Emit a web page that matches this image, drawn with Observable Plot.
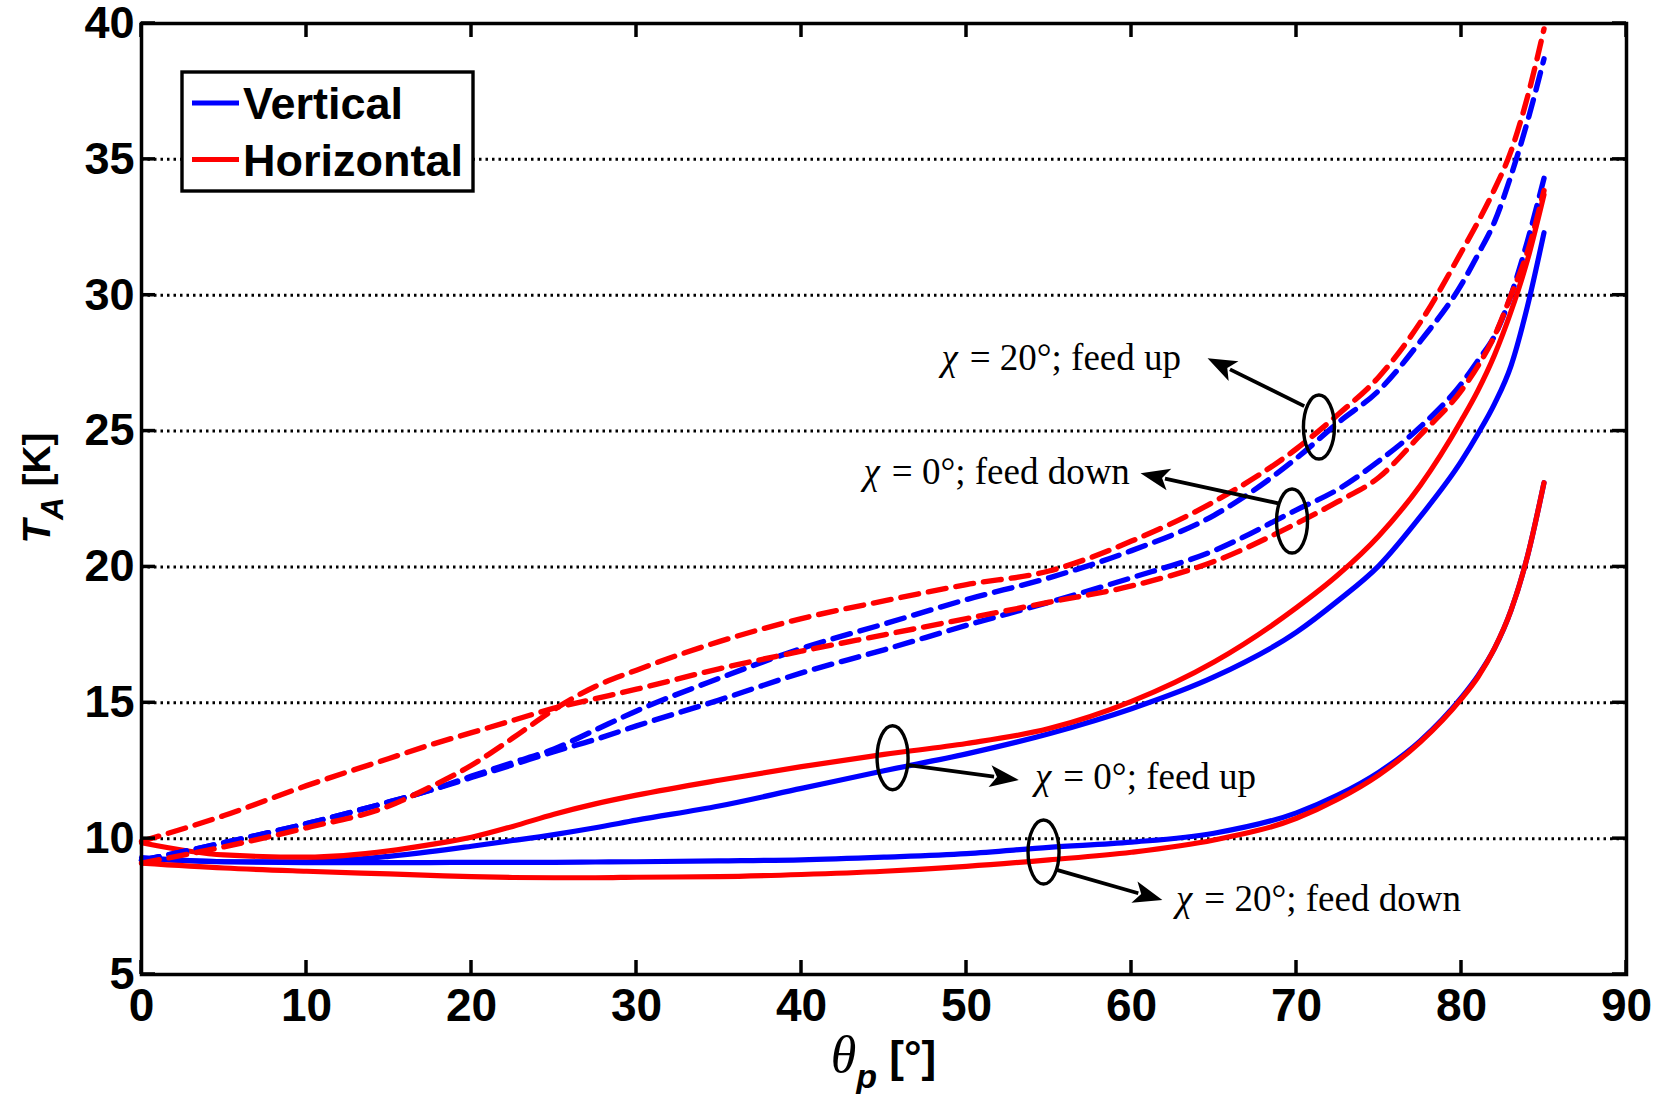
<!DOCTYPE html>
<html>
<head>
<meta charset="utf-8">
<script src="https://cdn.jsdelivr.net/npm/d3@7"></script>
<script src="https://cdn.jsdelivr.net/npm/@observablehq/plot@0.6"></script>
<style>
  html, body { margin: 0; padding: 0; background: #ffffff; }
  #chart svg { display: block; overflow: visible; }
</style>
</head>
<body>
<div id="chart"></div>
<script>
// ---- data ----
const theta = [0, 5, 10, 15, 17.5, 20, 22.5, 25, 27.5, 30, 35, 40, 45, 50, 55, 60, 65, 70, 72.5, 75, 77.5, 80, 81, 82, 83, 84, 85];

// solid: chi = 20 deg, feed down
const chi20DownV = [9.25, 9.15, 9.12, 9.12, 9.12, 9.13, 9.13, 9.13, 9.14, 9.15, 9.18, 9.22, 9.32, 9.45, 9.68, 9.87, 10.2, 10.95, 11.6, 12.45, 13.6, 15.2, 16.0, 17.0, 18.4, 20.4, 23.1];
const chi20DownH = [9.1, 8.92, 8.8, 8.7, 8.65, 8.6, 8.57, 8.56, 8.56, 8.58, 8.6, 8.68, 8.8, 8.98, 9.22, 9.5, 9.95, 10.75, 11.45, 12.35, 13.55, 15.15, 15.95, 17.0, 18.4, 20.4, 23.1];
// solid: chi = 0 deg, feed up
const chi0UpV = [9.3, 9.15, 9.15, 9.35, 9.52, 9.72, 9.93, 10.15, 10.4, 10.68, 11.2, 11.85, 12.5, 13.12, 13.86, 14.78, 15.95, 17.6, 18.75, 20.05, 21.85, 23.9, 24.9, 26.0, 27.4, 29.6, 32.3];
const chi0UpH = [9.85, 9.4, 9.32, 9.55, 9.78, 10.05, 10.45, 10.9, 11.28, 11.6, 12.15, 12.65, 13.1, 13.5, 14.05, 15.05, 16.5, 18.5, 19.7, 21.15, 23.0, 25.4, 26.5, 27.8, 29.4, 31.3, 33.7];
// dashed: chi = 20 deg, feed up
const chi20UpV = [9.2, 9.85, 10.55, 11.35, 11.78, 12.3, 12.8, 13.3, 14.0, 14.7, 15.9, 17.0, 17.9, 18.8, 19.6, 20.6, 21.9, 24.0, 25.3, 26.5, 28.3, 30.4, 31.5, 32.7, 34.4, 36.4, 38.7];
const chi20UpH = [9.1, 9.7, 10.4, 11.2, 11.9, 12.7, 13.7, 14.75, 15.6, 16.2, 17.25, 18.1, 18.75, 19.35, 19.85, 20.95, 22.4, 24.35, 25.6, 27.0, 29.0, 31.6, 32.7, 33.9, 35.3, 37.3, 39.8];
// dashed: chi = 0 deg, feed down
const chi0DownV = [9.2, 9.85, 10.55, 11.35, 11.78, 12.25, 12.72, 13.2, 13.65, 14.15, 15.1, 16.1, 16.95, 17.85, 18.7, 19.6, 20.6, 22.1, 22.85, 23.9, 25.15, 26.75, 27.6, 28.5, 30.0, 32.0, 34.3];
const chi0DownH = [9.9, 10.85, 11.95, 12.95, 13.45, 13.9, 14.35, 14.8, 15.15, 15.5, 16.25, 16.9, 17.5, 18.1, 18.7, 19.3, 20.2, 21.6, 22.4, 23.3, 24.85, 26.5, 27.4, 28.5, 30.0, 31.6, 33.85];

const xTicks = [0, 10, 20, 30, 40, 50, 60, 70, 80, 90];
const yTicks = [5, 10, 15, 20, 25, 30, 35, 40];
const gridTicks = [10, 15, 20, 25, 30, 35];
const legendLabels = ["Vertical", "Horizontal"];
const legendColors = ["#0000ff", "#ff0000"];

// annotation anchor points (data coordinates)
const labelTheta = [48.48, 43.76, 54.15, 62.7];
const labelT = [27.23, 23.07, 11.84, 7.32];
const labelRest = [" = 20°; feed up", " = 0°; feed down", " = 0°; feed up", " = 20°; feed down"];
const ellipseTheta = [71.39, 69.76, 45.55, 54.7];
const ellipseT = [25.13, 21.67, 12.96, 9.49];
const arrowFromTheta = [70.5, 68.93, 46.52, 55.5];
const arrowFromT = [25.9, 22.32, 12.69, 8.83];
const arrowToTheta = [64.64, 60.58, 53.2, 61.9];
const arrowToT = [27.66, 23.43, 12.14, 7.72];

// ---- tables built from the arrays ----
const seriesList = [
  {key: "20down-V", pol: "Vertical", dashed: false, values: chi20DownV},
  {key: "0up-V", pol: "Vertical", dashed: false, values: chi0UpV},
  {key: "20up-V", pol: "Vertical", dashed: true, values: chi20UpV},
  {key: "0down-V", pol: "Vertical", dashed: true, values: chi0DownV},
  {key: "20down-H", pol: "Horizontal", dashed: false, values: chi20DownH},
  {key: "0up-H", pol: "Horizontal", dashed: false, values: chi0UpH},
  {key: "20up-H", pol: "Horizontal", dashed: true, values: chi20UpH},
  {key: "0down-H", pol: "Horizontal", dashed: true, values: chi0DownH}
];
const rows = seriesList.flatMap(s => theta.map((t, i) => ({theta: t, T: s.values[i], key: s.key, pol: s.pol, dashed: s.dashed})));
const labels = labelTheta.map((t, i) => ({theta: t, T: labelT[i], rest: labelRest[i]}));
const ellipses = ellipseTheta.map((t, i) => ({theta: t, T: ellipseT[i]}));
const arrows = arrowFromTheta.map((t, i) => ({x1: t, y1: arrowFromT[i], x2: arrowToTheta[i], y2: arrowToT[i]}));

// ---- custom render marks (positions via Plot scales) ----
function insideTicks(index, scales, values, dim) {
  const g = d3.create("svg:g").attr("stroke", "black").attr("stroke-width", 3.5);
  const top = dim.marginTop, bottom = dim.height - dim.marginBottom;
  const left = dim.marginLeft, right = dim.width - dim.marginRight;
  const L = 14;
  for (const t of xTicks) {
    const px = scales.x(t);
    g.append("line").attr("x1", px).attr("x2", px).attr("y1", bottom).attr("y2", bottom - L);
    g.append("line").attr("x1", px).attr("x2", px).attr("y1", top).attr("y2", top + L);
  }
  for (const t of yTicks) {
    const py = scales.y(t);
    g.append("line").attr("y1", py).attr("y2", py).attr("x1", left).attr("x2", left + L);
    g.append("line").attr("y1", py).attr("y2", py).attr("x1", right).attr("x2", right - L);
  }
  return g.node();
}

function ellipseMark(index, scales) {
  const g = d3.create("svg:g").attr("fill", "none").attr("stroke", "black").attr("stroke-width", 3.4);
  for (const e of ellipses) {
    g.append("ellipse").attr("cx", scales.x(e.theta)).attr("cy", scales.y(e.T)).attr("rx", 15.5).attr("ry", 32);
  }
  return g.node();
}

function arrowMark(index, scales) {
  const g = d3.create("svg:g");
  const head = 29, halfW = 11;
  for (const a of arrows) {
    const x1 = scales.x(a.x1), y1 = scales.y(a.y1), x2 = scales.x(a.x2), y2 = scales.y(a.y2);
    const dx = x2 - x1, dy = y2 - y1, len = Math.hypot(dx, dy);
    const ux = dx / len, uy = dy / len;
    const bx = x2 - ux * head, by = y2 - uy * head;
    g.append("line").attr("x1", x1).attr("y1", y1).attr("x2", bx + ux * 4).attr("y2", by + uy * 4)
      .attr("stroke", "black").attr("stroke-width", 3.8);
    g.append("polygon")
      .attr("points", `${x2},${y2} ${bx - uy * halfW},${by + ux * halfW} ${bx + ux * 7},${by + uy * 7} ${bx + uy * halfW},${by - ux * halfW}`)
      .attr("fill", "black");
  }
  return g.node();
}

function legendMark(index, scales, values, dim) {
  const g = d3.create("svg:g");
  const x0 = dim.marginLeft + 41, y0 = dim.marginTop + 49;
  g.append("rect").attr("x", x0).attr("y", y0).attr("width", 291).attr("height", 119)
    .attr("fill", "white").attr("stroke", "black").attr("stroke-width", 3.4);
  legendLabels.forEach((lab, i) => {
    const yy = y0 + 31 + i * 56.5;
    g.append("line").attr("x1", x0 + 10).attr("x2", x0 + 57).attr("y1", yy).attr("y2", yy)
      .attr("stroke", legendColors[i]).attr("stroke-width", 5);
    g.append("text").attr("x", x0 + 61).attr("y", yy + 16).attr("text-anchor", "start")
      .attr("font-family", "Liberation Sans, Arial, sans-serif").attr("font-weight", "bold")
      .attr("font-size", 45).attr("fill", "black").text(lab);
  });
  return g.node();
}

function axisTitles(index, scales, values, dim) {
  const g = d3.create("svg:g").attr("font-family", "Liberation Sans, Arial, sans-serif")
    .attr("font-weight", "bold").attr("fill", "black");
  const cx = (dim.marginLeft + dim.width - dim.marginRight) / 2;
  const tx = g.append("text").attr("x", cx).attr("y", dim.height - 22).attr("text-anchor", "middle").attr("font-size", 44);
  tx.append("tspan").attr("font-style", "italic").attr("font-weight", "normal").attr("font-family", "Liberation Serif, serif").attr("font-size", 52).text("θ");
  tx.append("tspan").attr("font-style", "italic").attr("font-size", 34).attr("dy", 16).text("p");
  tx.append("tspan").attr("dy", -16).text(" [°]");
  const cy = 488;
  const ty = g.append("text").attr("transform", `translate(50,${cy}) rotate(-90)`).attr("text-anchor", "middle").attr("font-size", 39);
  ty.append("tspan").attr("font-style", "italic").text("T");
  ty.append("tspan").attr("font-style", "italic").attr("font-size", 31).attr("dy", 13).text("A");
  ty.append("tspan").attr("dy", -13).text(" [K]");
  return g.node();
}

const chart = Plot.plot({
  width: 1664,
  height: 1094,
  marginLeft: 141,
  marginRight: 38,
  marginTop: 23,
  marginBottom: 120,
  style: {background: "white", color: "black", fontFamily: "Liberation Sans, Arial, sans-serif", overflow: "visible"},
  x: {domain: [0, 90]},
  y: {domain: [5, 40]},
  color: {domain: legendLabels, range: legendColors},
  marks: [
    Plot.gridY({ticks: gridTicks, stroke: "black", strokeOpacity: 1, strokeWidth: 3, strokeDasharray: "2.5,4"}),
    Plot.line(rows.filter(d => !d.dashed), {x: "theta", y: "T", z: "key", stroke: "pol", strokeWidth: 5.2, curve: "monotone-x"}),
    Plot.line(rows.filter(d => d.dashed), {x: "theta", y: "T", z: "key", stroke: "pol", strokeWidth: 5.4, strokeDasharray: "18,10", curve: "monotone-x"}),
    ellipseMark,
    arrowMark,
    Plot.text(labels, {x: "theta", y: "T", text: () => "χ", textAnchor: "start", lineAnchor: "bottom", fontFamily: "Liberation Serif, serif", fontStyle: "italic", fontSize: 37, fill: "black"}),
    Plot.text(labels, {x: "theta", y: "T", text: "rest", dx: 19, textAnchor: "start", lineAnchor: "bottom", fontFamily: "Liberation Serif, serif", fontSize: 37, fill: "black"}),
    Plot.axisX({ticks: xTicks, tickSize: 0, tickPadding: 14, fontSize: 46, fontWeight: "bold", label: null}),
    Plot.axisY({ticks: yTicks, tickSize: 0, tickPadding: 7, fontSize: 45, fontWeight: "bold", label: null}),
    legendMark,
    insideTicks,
    Plot.frame({stroke: "black", strokeWidth: 3.5}),
    axisTitles
  ]
});
document.getElementById("chart").appendChild(chart);
</script>
</body>
</html>
